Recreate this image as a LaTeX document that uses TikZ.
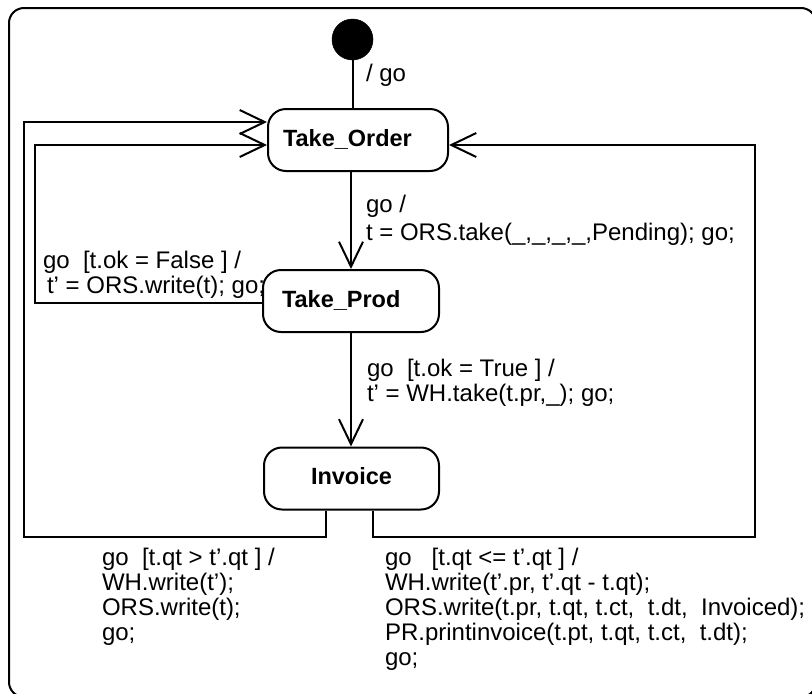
\documentclass[tikz,border=0pt]{standalone}
\usepackage{fontspec}
\setmainfont{Liberation Sans}
\usetikzlibrary{arrows.meta}
\begin{document}
\begin{tikzpicture}[x=1pt, y=-1pt, line width=2pt,
  state/.style={draw, rounded corners=18pt, inner sep=0pt, minimum height=62pt,
    font=\fontsize{23.5}{26}\selectfont\bfseries, text height=17pt, text depth=5pt},
  initial/.style={circle, fill=black, draw, line width=0.5pt, minimum size=41pt, inner sep=0pt},
  trans/.style={-{Straight Barb[length=25pt, width=24pt]}},
  guard/.style={anchor=base west, align=left, inner sep=0pt,
    font=\fontsize{24}{25}\selectfont}]
\useasboundingbox (0,0) rectangle (812,694);

% enclosing superstate (its right and bottom edges run past the page)
\draw[rounded corners=15pt] (9,8) rectangle (816,697);

% states
\node[initial] (init) at (352.5,39.5) {};
\node[state, minimum width=180pt, text width=150pt, align=left] (order) at (358,140) {Take\_Order};
\node[state, minimum width=176pt, text width=138pt, align=left] (prod) at (351,301) {Take\_Prod};
\node[state, minimum width=175pt, align=center] (invoice) at (351.5,478.5) {Invoice};

% corner points of the feedback loops
\coordinate (outerL) at (24,537);
\coordinate (innerL) at (35,145);
\coordinate (outerR) at (755,537);

% transitions
\draw (init.south) -- (init |- order.north);
\draw[trans] (prod |- order.south) -- (prod.north);
\draw[trans] (prod.south) -- (prod |- invoice.north);
\draw[trans] ([yshift=-2pt]prod.west) -| (innerL) -- ([yshift=-5pt]order.west);
\draw[trans] ([xshift=-25.5pt]invoice.south) |- (outerL) |- ([yshift=18pt]order.west);
\draw[trans] ([xshift=21.5pt]invoice.south) |- (outerR) |- ([yshift=-5pt]order.east);

% transition labels (anchored at the baseline of their last line)
\node[guard] (l0) at (365,81.5) {/ go};
\node[guard] (l1) at (365,240) {go /\\[3pt]t = ORS.take(\_,\_,\_,\_,Pending); go;};
\node[guard] (l2) at (366,401.5) {go\ \ [t.ok = True ] /\\t’ = WH.take(t.pr,\_); go;};
\node[guard] (l3) at (42,293) {go\ \ [t.ok = False ] /\\\hspace*{4pt}t’ = ORS.write(t); go;};
\node[guard] (l4) at (101,640) {go\ \ [t.qt > t’.qt ] /\\WH.write(t’);\\ORS.write(t);\\go;};
\node[guard] (l5) at (384,665) {go\ \ \ [t.qt <= t’.qt ] /\\WH.write(t’.pr, t’.qt - t.qt);\\ORS.write(t.pr, t.qt, t.ct,\ \ t.dt,\ \ Invoiced);\\PR.printinvoice(t.pt, t.qt, t.ct,\ \ t.dt);\\go;};
\end{tikzpicture}
\end{document}
